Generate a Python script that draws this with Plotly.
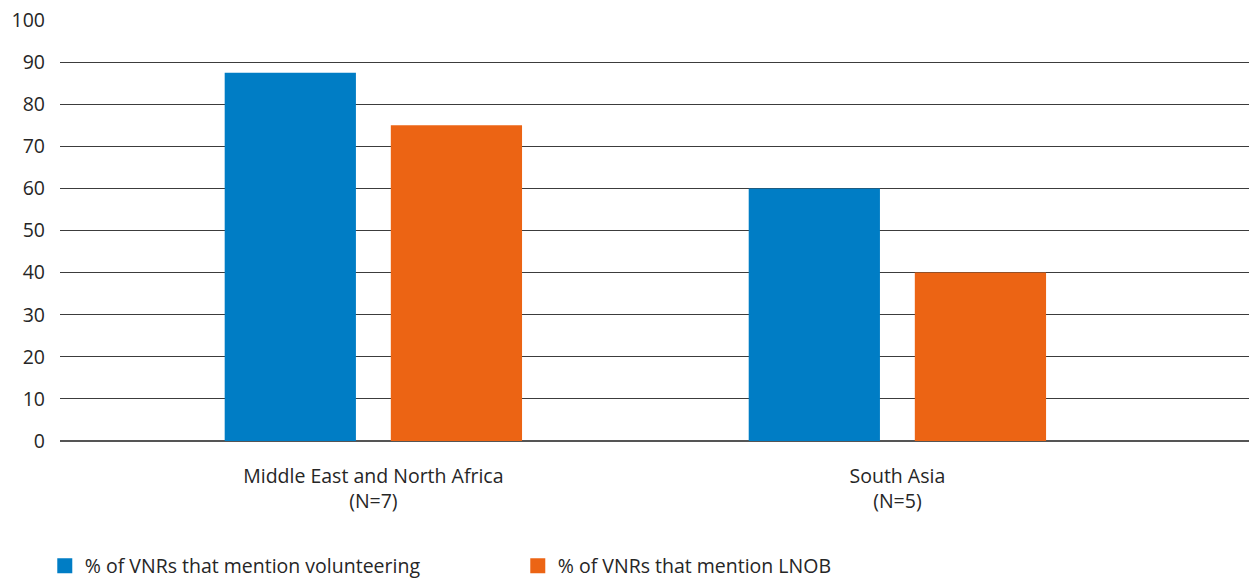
import plotly.graph_objects as go

# Regions and the share of Voluntary National Reviews (VNRs) mentioning each topic
regions = ["Middle East and North Africa<br>(N=7)", "South Asia<br>(N=5)"]
volunteering = [87.5, 60]
lnob = [75, 40]
series_names = ["% of VNRs that mention volunteering", "% of VNRs that mention LNOB"]
y_ticks = [0, 10, 20, 30, 40, 50, 60, 70, 80, 90, 100]

BLUE = "#007DC5"
ORANGE = "#EC6414"
FONT = "'Open Sans', Lato, sans-serif"
TEXT = "#262626"
SIZE = 19.5

fig = go.Figure()
fig.add_trace(go.Bar(x=regions, y=volunteering, marker_color=BLUE,
                     marker_line_width=0, showlegend=False))
fig.add_trace(go.Bar(x=regions, y=lnob, marker_color=ORANGE,
                     marker_line_width=0, showlegend=False))

# Legend entries with larger square swatches
for name, color in zip(series_names, [BLUE, ORANGE]):
    fig.add_trace(go.Scatter(x=[None], y=[None], mode="markers", name=name,
                             marker=dict(symbol="square", size=15, color=color)))

fig.update_layout(
    width=1249, height=578,
    margin=dict(l=60, r=0, t=20, b=137, autoexpand=False),
    paper_bgcolor="white", plot_bgcolor="white",
    barmode="group", bargap=0.366, bargroupgap=0.21,
    font=dict(family=FONT, size=SIZE, color=TEXT),
    showlegend=True,
    legend=dict(orientation="h", x=-0.0128, xanchor="left",
                y=-0.297, yanchor="middle",
                entrywidth=428, entrywidthmode="pixels",
                font=dict(family=FONT, size=SIZE, color=TEXT),
                itemsizing="trace"),
    xaxis=dict(type="category", range=[-0.598, 1.671], showgrid=False,
               showline=False, ticks="", ticklabelstandoff=21,
               tickfont=dict(size=SIZE, color=TEXT)),
    yaxis=dict(range=[0, 100], tickvals=y_ticks, showgrid=True,
               gridcolor="#3c3c3c", gridwidth=1, zeroline=True,
               zerolinecolor="#555555", zerolinewidth=2,
               ticks="", ticklabelstandoff=14, tickfont=dict(size=SIZE, color=TEXT)),
)

fig.write_html("out.html")
